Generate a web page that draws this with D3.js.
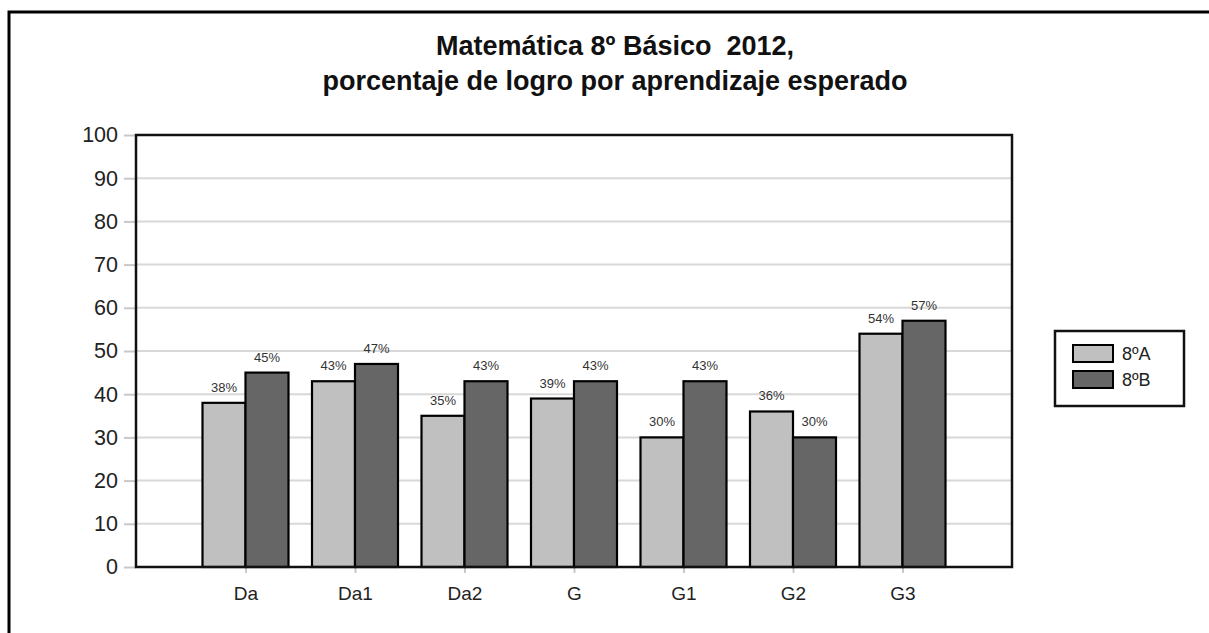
<!DOCTYPE html>
<html><head><meta charset="utf-8">
<script src="https://cdn.jsdelivr.net/npm/d3@7"></script>
<style>body{margin:0;background:#fff;} svg{display:block;font-family:"Liberation Sans",Arial,sans-serif;}</style>
</head><body>
<svg id="c" width="1209" height="633"></svg>
<script>
const categories = ["Da","Da1","Da2","G","G1","G2","G3"];
const seriesNames = ["8ºA","8ºB"];
const valuesA = [38,43,35,39,30,36,54];
const valuesB = [45,47,43,43,43,30,57];
const yTickValues = [0,10,20,30,40,50,60,70,80,90,100];
const titleLines = ["Matemática 8º Básico  2012,","porcentaje de logro por aprendizaje esperado"];
const colors = ["#c0c0c0","#666666"];

const svg = d3.select("#c");
const L=136, R=1012, T=135, B=567;

// outer frame
svg.append("rect").attr("x",9).attr("y",12).attr("width",1220).attr("height",640)
  .attr("fill","#fff").attr("stroke","#000").attr("stroke-width",3);

// title
svg.append("g").selectAll("text").data(titleLines).join("text")
  .attr("x",615).attr("y",(d,i)=>55+i*35).attr("text-anchor","middle")
  .style("white-space","pre")
  .attr("font-weight","bold").attr("font-size",27).attr("fill","#111").text(d=>d);

const y = d3.scaleLinear().domain([0,100]).range([B,T]);
const x = d3.scalePoint().domain(categories).range([L,R]).padding(1);

// gridlines
svg.append("g").selectAll("line").data(yTickValues.slice(1,-1)).join("line")
  .attr("x1",L).attr("x2",R).attr("y1",d=>y(d)).attr("y2",d=>y(d))
  .attr("stroke","#d8d8d8").attr("stroke-width",2);

// y axis
const ya = svg.append("g").attr("transform",`translate(${L},0)`)
  .call(d3.axisLeft(y).tickValues(yTickValues).tickSize(12).tickPadding(6));
ya.select(".domain").remove();
ya.selectAll(".tick line").attr("stroke","#c8c8c8").attr("stroke-width",2);
ya.selectAll(".tick text").attr("font-size",21.5).attr("fill","#222").attr("font-family","Liberation Sans, Arial, sans-serif");

// x axis
const xa = svg.append("g").attr("transform",`translate(0,${B})`)
  .call(d3.axisBottom(x).tickSize(6).tickPadding(14));
xa.select(".domain").remove();
xa.selectAll(".tick line").attr("stroke","#c8c8c8").attr("stroke-width",2);
xa.selectAll(".tick text").attr("font-size",19).attr("fill","#222").attr("font-family","Liberation Sans, Arial, sans-serif");

// bars
const bw = 43;
const data = categories.map((c,i)=>({c, v:[valuesA[i],valuesB[i]]}));
const g = svg.append("g");
seriesNames.forEach((s,si)=>{
  g.selectAll(null).data(data).join("rect")
    .attr("x",d=>x(d.c)+(si===0?-bw:0)).attr("y",d=>y(d.v[si]))
    .attr("width",bw).attr("height",d=>B-y(d.v[si]))
    .attr("fill",colors[si]).attr("stroke","#000").attr("stroke-width",2.2);
  g.selectAll(null).data(data).join("text")
    .attr("x",d=>x(d.c)+(si===0?-bw/2:bw/2)).attr("y",d=>y(d.v[si])-11)
    .attr("text-anchor","middle").attr("font-size",13).attr("fill","#333")
    .text(d=>d.v[si]+"%");
});

// plot frame
svg.append("rect").attr("x",L).attr("y",T).attr("width",R-L).attr("height",B-T)
  .attr("fill","none").attr("stroke","#111").attr("stroke-width",2.5);

// legend
const lg = svg.append("g");
lg.append("rect").attr("x",1055).attr("y",331).attr("width",129).attr("height",75)
  .attr("fill","#fff").attr("stroke","#111").attr("stroke-width",2.5);
seriesNames.forEach((s,i)=>{
  lg.append("rect").attr("x",1073).attr("y",345+i*26).attr("width",40).attr("height",17)
    .attr("fill",colors[i]).attr("stroke","#000").attr("stroke-width",2);
  lg.append("text").attr("x",1122).attr("y",360+i*26).attr("font-size",18).attr("fill","#222").text(s);
});
</script>
</body></html>
